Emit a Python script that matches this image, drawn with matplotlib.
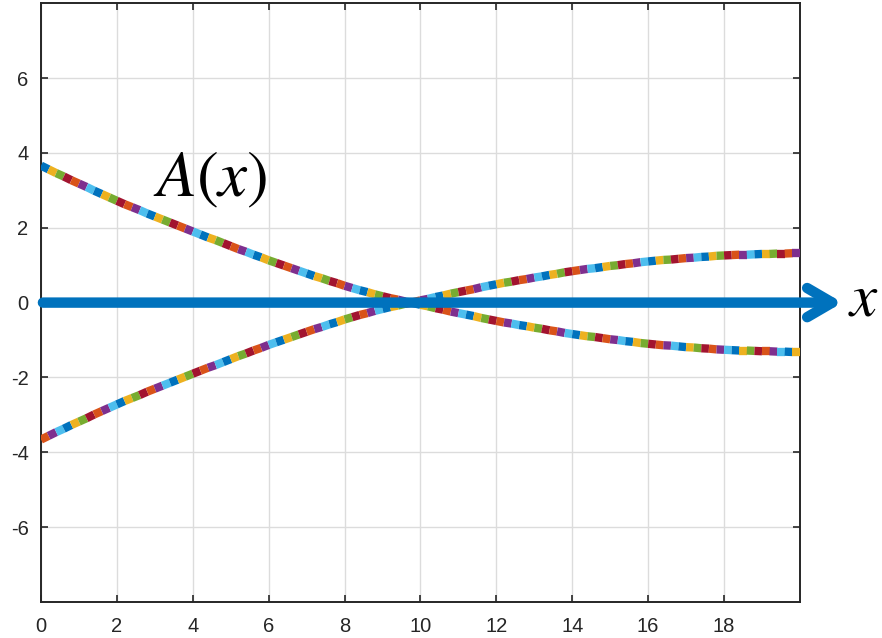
import numpy as np
import matplotlib
matplotlib.use("Agg")
import matplotlib.pyplot as plt
from matplotlib.collections import LineCollection

plt.rcParams['font.family'] = ['Liberation Sans', 'DejaVu Sans']
plt.rcParams['mathtext.fontset'] = 'stix'
plt.rcParams['axes.unicode_minus'] = False


### Data (step 0.2 in x)

x_vals = [i * 0.2 for i in range(101)]

a_upper = [3.66, 3.56, 3.46, 3.37, 3.27, 3.18, 3.09, 2.99, 2.90, 2.81,
           2.72, 2.63, 2.55, 2.47, 2.38, 2.30, 2.22, 2.14, 2.06, 1.98,
           1.90, 1.82, 1.74, 1.67, 1.59, 1.51, 1.43, 1.36, 1.28, 1.21,
           1.13, 1.06, 0.99, 0.92, 0.85, 0.78, 0.71, 0.65, 0.58, 0.52,
           0.45, 0.39, 0.33, 0.28, 0.22, 0.17, 0.12, 0.08, 0.03, -0.01,
           -0.06, -0.10, -0.15, -0.19, -0.24, -0.28, -0.32, -0.36, -0.41, -0.45,
           -0.49, -0.53, -0.56, -0.60, -0.63, -0.67, -0.70, -0.74, -0.77, -0.81,
           -0.84, -0.87, -0.90, -0.92, -0.95, -0.98, -1.00, -1.03, -1.05, -1.08,
           -1.10, -1.12, -1.14, -1.15, -1.17, -1.19, -1.20, -1.22, -1.23, -1.25,
           -1.26, -1.27, -1.28, -1.28, -1.29, -1.30, -1.30, -1.31, -1.31, -1.32,
           -1.32]

a_lower = [-3.66, -3.56, -3.46, -3.37, -3.27, -3.18, -3.09, -2.99, -2.90, -2.81,
           -2.72, -2.63, -2.55, -2.47, -2.38, -2.30, -2.22, -2.14, -2.06, -1.98,
           -1.90, -1.82, -1.74, -1.67, -1.59, -1.51, -1.43, -1.36, -1.28, -1.21,
           -1.13, -1.06, -0.99, -0.92, -0.85, -0.78, -0.71, -0.65, -0.58, -0.52,
           -0.45, -0.39, -0.33, -0.28, -0.22, -0.17, -0.12, -0.08, -0.03, 0.01,
           0.06, 0.10, 0.15, 0.19, 0.24, 0.28, 0.32, 0.36, 0.41, 0.45,
           0.49, 0.53, 0.56, 0.60, 0.63, 0.67, 0.70, 0.74, 0.77, 0.81,
           0.84, 0.87, 0.90, 0.92, 0.95, 0.98, 1.00, 1.03, 1.05, 1.08,
           1.10, 1.12, 1.14, 1.15, 1.17, 1.19, 1.20, 1.22, 1.23, 1.25,
           1.26, 1.27, 1.28, 1.28, 1.29, 1.30, 1.30, 1.31, 1.31, 1.32,
           1.32]

# matlab default color order
colors = ['#0072BD', '#D95319', '#EDB120', '#7E2F8E', '#77AC30', '#4DBEEE', '#A2142F']

xticks = [0, 2, 4, 6, 8, 10, 12, 14, 16, 18]
yticks = [-6, -4, -2, 0, 2, 4, 6]


### plot
fig = plt.figure(figsize=(8.82, 6.38), dpi=100)
ax = fig.add_axes([0.0465, 0.0564, 0.8605, 0.9386])

x = np.array(x_vals)
segs, cols = [], []
for i in range(len(x) - 1):
    segs.append([(x[i], a_upper[i]), (x[i + 1], a_upper[i + 1])])
    cols.append(colors[(2 * i) % 7])
    segs.append([(x[i], a_lower[i]), (x[i + 1], a_lower[i + 1])])
    cols.append(colors[(2 * i + 1) % 7])
ax.add_collection(LineCollection(segs, colors=cols, linewidths=6.0, capstyle='butt', zorder=3))

ax.set_xlim(0, 20)
ax.set_ylim(-8, 8)
ax.set_xticks(xticks)
ax.set_yticks(yticks)
ax.grid(True, color='#dcdcdc', lw=1.0)
ax.set_axisbelow(True)
ax.tick_params(direction='in', top=True, right=True, length=5, width=1.2,
               labelsize=14.5, colors='#262626')
ax.tick_params(axis='x', pad=11)
ax.tick_params(axis='y', pad=9)
for s in ax.spines.values():
    s.set_color('#262626')
    s.set_linewidth(1.4)

# big axis arrow
ax.annotate('', xy=(21.12, 0), xytext=(0.05, 0), xycoords='data', annotation_clip=False,
            arrowprops=dict(arrowstyle='->, head_length=0.36, head_width=0.21',
                            mutation_scale=50, lw=7.5, color='#0072BD',
                            shrinkA=0, shrinkB=0, capstyle='round', joinstyle='round'),
            zorder=5)

ax.text(4.45, 3.28, '$A(x)$', fontsize=47, ha='center', va='center', color='black')
ax.text(21.68, 0.08, '$x$', fontsize=44, ha='center', va='center', color='black',
        clip_on=False)

fig.savefig('out.png', dpi=100)
